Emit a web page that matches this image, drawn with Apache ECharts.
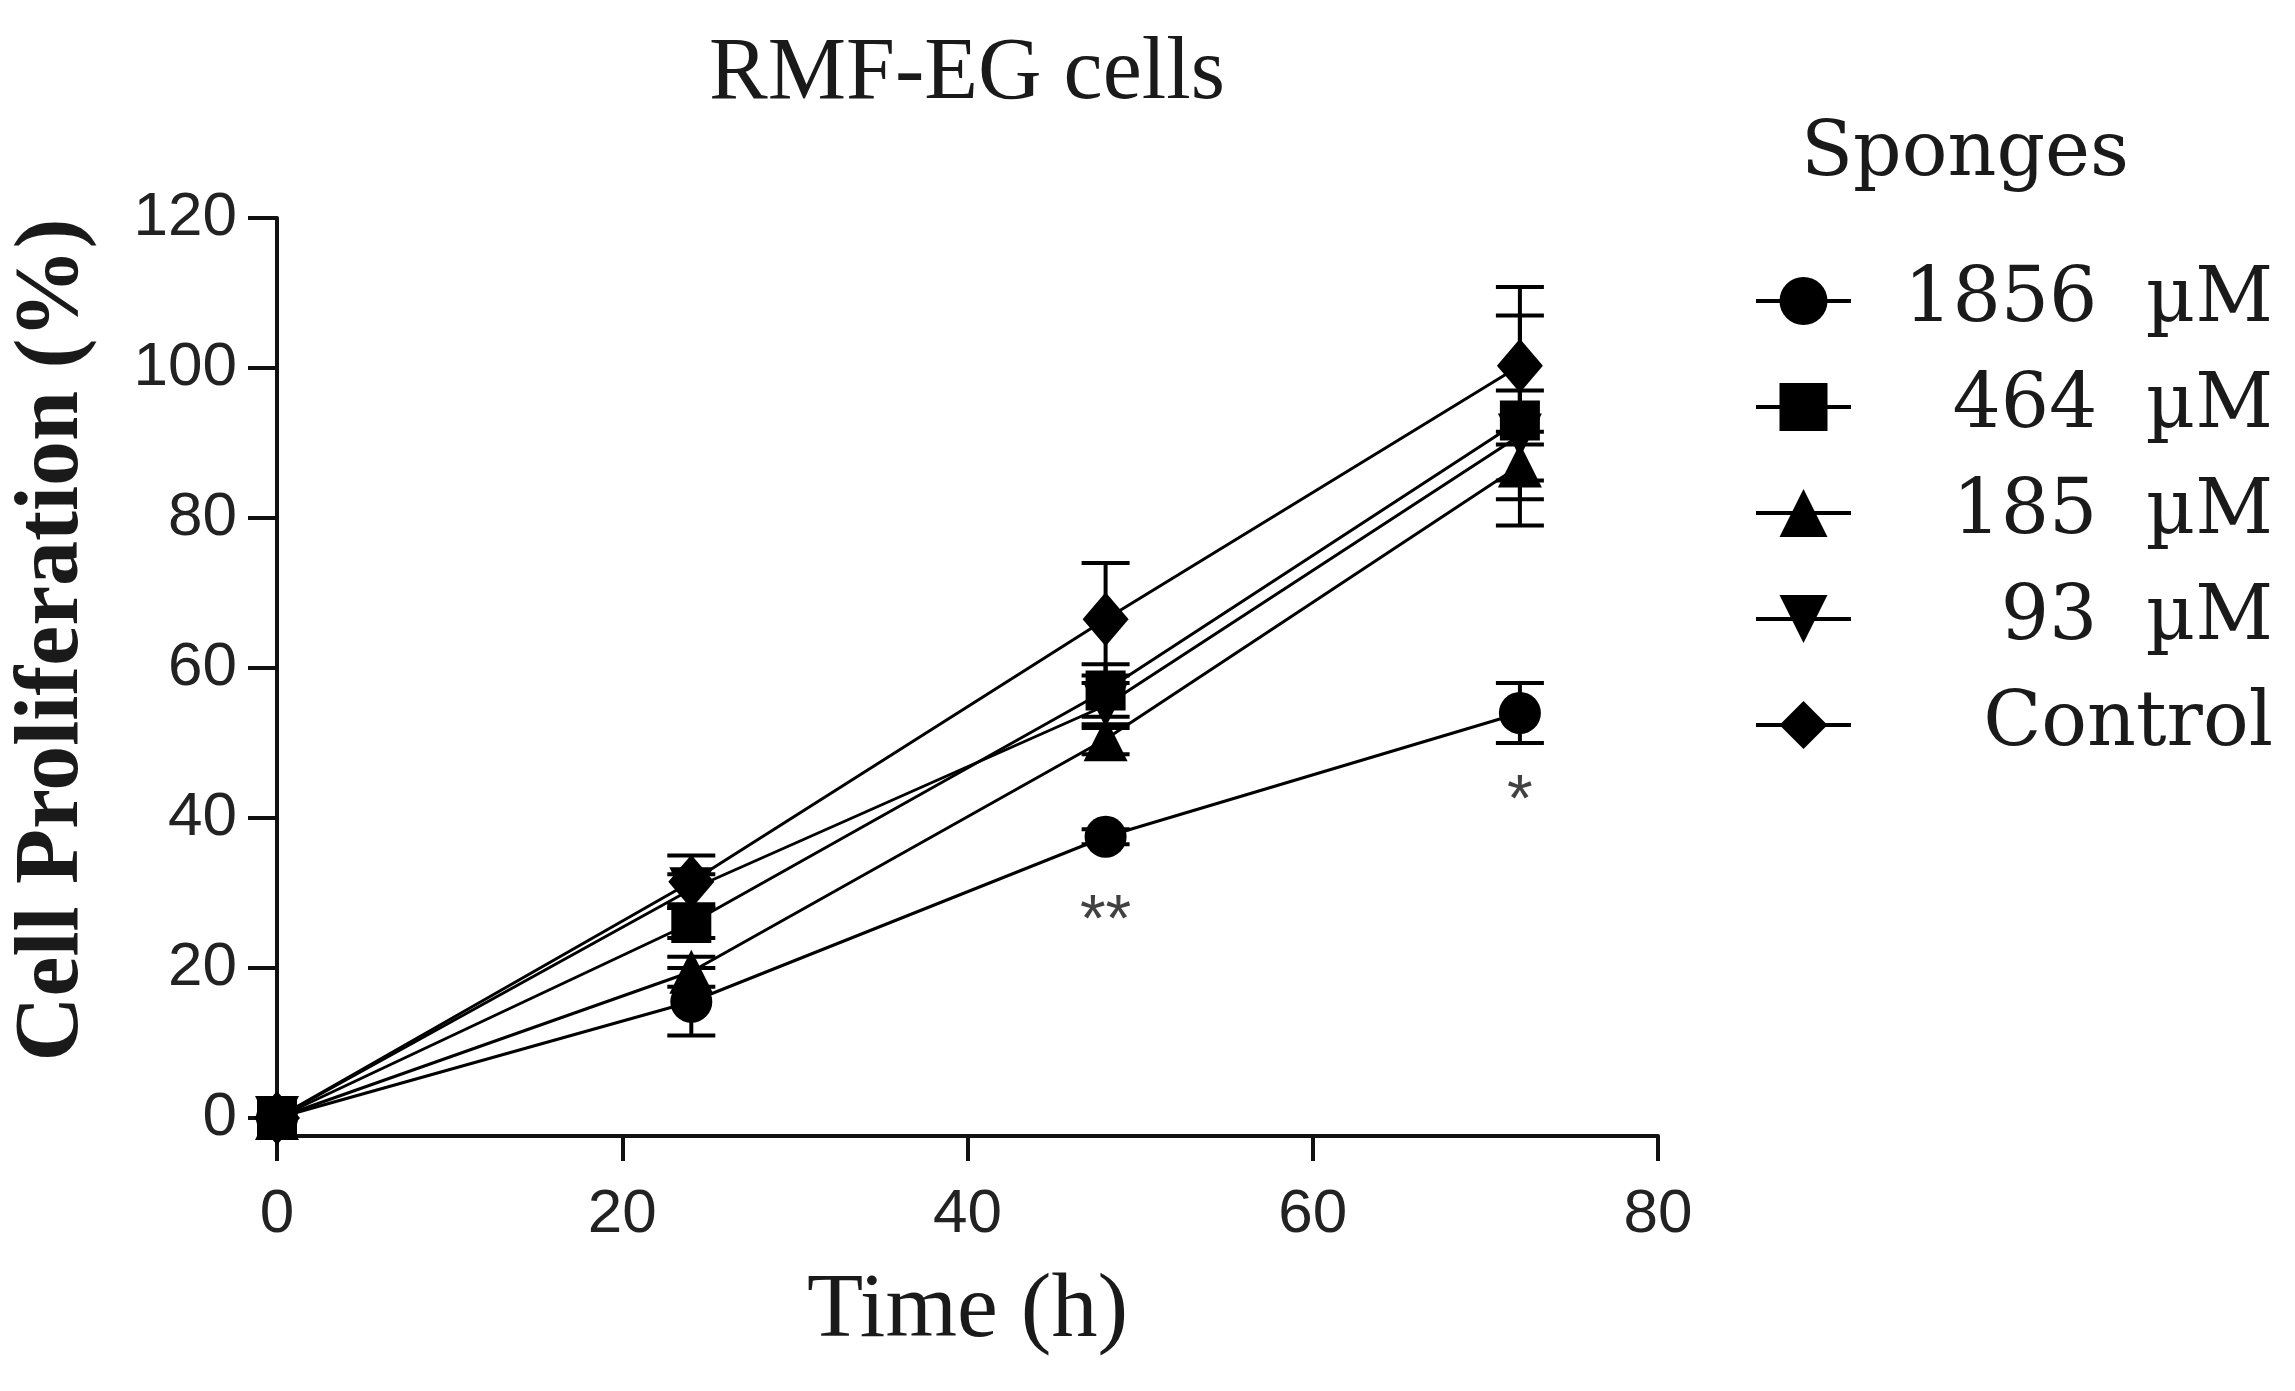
<!DOCTYPE html>
<html lang="en">
<head>
  <meta charset="UTF-8">
  <title>RMF-EG cells</title>
  <style>
    html, body { margin: 0; padding: 0; background: #fff; }
    #chart { width: 2295px; height: 1391px; }
  </style>
</head>
<body>
  <div id="chart"></div>

  <script src="https://cdn.jsdelivr.net/npm/echarts@6/dist/echarts.min.js"></script>
  <script>
    // Time points (h)
    const timeH = [0, 24, 48, 72];

    // Mean proliferation (%) and error for each sponge concentration
    const p1856 = [0, 15.5, 37.5, 54];
    const e1856 = [0, 4.5, 1, 4];
    const p464 = [0, 26, 57, 93];
    const e464 = [0, 2, 3.5, 14];
    const p185 = [0, 19.5, 50.5, 87];
    const e185 = [0, 2, 2, 4.5];
    const p93 = [0, 30.5, 55, 91];
    const e93 = [0, 2, 3, 6];
    const pCtrl = [0, 31.5, 66.5, 100.3];
    const eCtrl = [0, 3.5, 7.5, 10.5];

    const seriesNames = ['1856 µM', '464 µM', '185 µM', '93 µM', 'Control'];
    const yTicks = [0, 20, 40, 60, 80, 100, 120];

    // significance marks
    const sigTimes = [48, 72];
    const sigY = [26, 42];
    const sigText = ['**', '*'];

    const serifFont = '"Liberation Serif", "Times New Roman", serif';
    const legendFont = '"DejaVu Serif", serif';
    const tickFont = '"Liberation Sans Narrow", "Liberation Sans", Arial, sans-serif';

    const groups = [
      { name: seriesNames[0], mean: p1856, err: e1856, symbol: 'circle', size: 42, rot: 0 },
      { name: seriesNames[1], mean: p464, err: e464, symbol: 'rect', size: 40, rot: 0 },
      { name: seriesNames[2], mean: p185, err: e185, symbol: 'triangle', size: 44, rot: 0 },
      { name: seriesNames[3], mean: p93, err: e93, symbol: 'triangle', size: 44, rot: 180 },
      { name: seriesNames[4], mean: pCtrl, err: eCtrl, symbol: 'diamond', size: [46, 54], rot: 0 }
    ];

    const chart = echarts.init(document.getElementById('chart'));

    const series = [];
    groups.forEach(g => {
      // error bars with caps
      series.push({
        type: 'custom',
        name: g.name + ' err',
        z: 1,
        silent: true,
        data: timeH.map((t, i) => [t, g.mean[i], g.err[i]]),
        renderItem: (params, api) => {
          const err = api.value(2);
          if (!err) return null;
          const x = api.value(0), y = api.value(1);
          const top = api.coord([x, y + err]);
          const bot = api.coord([x, y - err]);
          const hw = 24;
          const style = { stroke: '#000', lineWidth: 4 };
          return {
            type: 'group',
            children: [
              { type: 'line', shape: { x1: top[0], y1: top[1], x2: bot[0], y2: bot[1] }, style },
              { type: 'line', shape: { x1: top[0] - hw, y1: top[1], x2: top[0] + hw, y2: top[1] }, style },
              { type: 'line', shape: { x1: bot[0] - hw, y1: bot[1], x2: bot[0] + hw, y2: bot[1] }, style }
            ]
          };
        }
      });
      series.push({
        type: 'line',
        name: g.name,
        z: 3,
        clip: false,
        data: timeH.map((t, i) => [t, g.mean[i]]),
        symbol: g.symbol,
        symbolSize: g.size,
        symbolRotate: g.rot,
        showAllSymbol: true,
        lineStyle: { color: '#000', width: 3 },
        itemStyle: { color: '#000', borderWidth: 0 }
      });
    });

    series.push({
      type: 'scatter',
      name: 'sig',
      symbolSize: 0,
      silent: true,
      data: sigTimes.map((t, i) => [t, sigY[i], sigText[i]]),
      label: {
        show: true,
        position: 'inside',
        formatter: p => p.value[2],
        fontFamily: '"Liberation Sans", Arial, sans-serif',
        fontSize: 66,
        color: '#111'
      }
    });

    chart.setOption({
      animation: false,
      backgroundColor: '#fff',
      title: [
        {
          text: 'RMF-EG cells',
          left: 962,
          top: 26,
          textAlign: 'center',
          textStyle: { fontFamily: serifFont, fontSize: 88, fontWeight: 'normal', color: '#1a1a1a' }
        },
        {
          text: 'Sponges',
          left: 1796,
          top: 112,
          textStyle: { fontFamily: legendFont, fontSize: 76, fontWeight: 'normal', color: '#1a1a1a' }
        }
      ],
      legend: {
        data: seriesNames,
        orient: 'vertical',
        left: 1749,
        top: 258,
        itemWidth: 95,
        itemHeight: 60,
        itemGap: 30,
        formatter: name => '{r|' + name.replace(' ', '  ') + '}',
        lineStyle: { width: 4 },
        textStyle: {
          rich: {
            r: {
              width: 417,
              align: 'right',
              lineHeight: 82,
              fontFamily: legendFont,
              fontSize: 76,
              color: '#1a1a1a'
            }
          }
        }
      },
      grid: { left: 277, right: 637, top: 218, bottom: 255, containLabel: false },
      xAxis: {
        type: 'value',
        min: 0,
        max: 80,
        interval: 20,
        name: 'Time (h)',
        nameLocation: 'middle',
        nameGap: 130,
        nameTextStyle: { fontFamily: serifFont, fontSize: 92, color: '#1a1a1a' },
        axisLine: { onZero: false, lineStyle: { color: '#111', width: 4 } },
        axisTick: { show: true, length: 25, lineStyle: { color: '#111', width: 4 } },
        axisLabel: { margin: 48, fontFamily: tickFont, fontSize: 62, color: '#222' },
        splitLine: { show: false }
      },
      yAxis: {
        type: 'value',
        min: -2.4,
        max: 120,
        name: 'Cell Proliferation (%)',
        nameLocation: 'middle',
        nameRotate: 90,
        nameGap: 178,
        nameTextStyle: {
          fontFamily: serifFont,
          fontSize: 90,
          fontWeight: 'bold',
          color: '#1a1a1a',
          padding: [0, 0, 0, 74]
        },
        axisLine: { show: true, onZero: false, lineStyle: { color: '#111', width: 4 } },
        axisTick: { show: true, length: 29, customValues: yTicks, lineStyle: { color: '#111', width: 4 } },
        axisLabel: { margin: 40, customValues: yTicks, fontFamily: tickFont, fontSize: 62, color: '#222' },
        splitLine: { show: false }
      },
      series: series
    });
  </script>
</body>
</html>
